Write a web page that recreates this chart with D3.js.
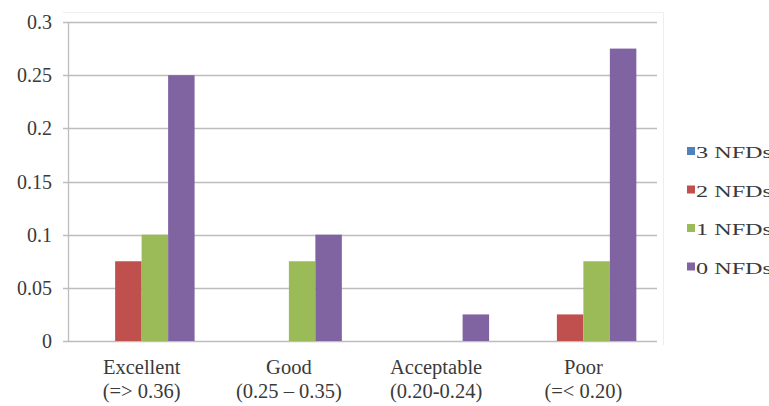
<!DOCTYPE html>
<html>
<head>
<meta charset="utf-8">
<script src="https://cdn.jsdelivr.net/npm/d3@7"></script>
<style>
  html, body { margin: 0; padding: 0; background: #fff; }
  svg { display: block; }
</style>
</head>
<body>
<svg id="nfd-plot" width="769" height="406"></svg>
<script>
// Rating categories, two-line labels
const categories = ["Excellent", "Good", "Acceptable", "Poor"];
const categoryRanges = ["(=> 0.36)", "(0.25 \u2013 0.35)", "(0.20-0.24)", "(=< 0.20)"];

// Series (number of NFDs) and their values per category
const seriesNames = ["3 NFDs", "2 NFDs", "1 NFDs", "0 NFDs"];
const nfd3 = [0, 0, 0, 0];
const nfd2 = [0.075, 0, 0, 0.025];
const nfd1 = [0.1, 0.075, 0, 0.075];
const nfd0 = [0.25, 0.1, 0.025, 0.275];
const seriesColors = ["#4F81BD", "#C0504D", "#9BBB59", "#8064A2"];

const yTicks = [0, 0.05, 0.1, 0.15, 0.2, 0.25, 0.3];

const seriesValues = [nfd3, nfd2, nfd1, nfd0];

const svg = d3.select("#nfd-plot");
const margin = { left: 68, top: 22, right: 657, bottom: 341 };
const textColor = "#3a3a3a";
const serif = '"Liberation Serif"';

const x0 = d3.scaleBand()
  .domain(categories)
  .range([margin.left, margin.right])
  .paddingInner(0)
  .paddingOuter(0);

const x1 = d3.scaleBand()
  .domain(seriesNames)
  .range([0, x0.bandwidth()])
  .paddingInner(0)
  .paddingOuter(0.78);

const y = d3.scaleLinear().domain([0, 0.3]).range([margin.bottom, margin.top]);

// faint outer frame of the plot area
svg.append("path")
  .attr("d", `M${margin.left - 5},12.5 H663.5 V345`)
  .attr("fill", "none")
  .attr("stroke", "#eeeeee")
  .attr("stroke-width", 1);

// horizontal gridlines
svg.append("g")
  .selectAll("line")
  .data(yTicks)
  .join("line")
  .attr("x1", margin.left - 5)
  .attr("x2", margin.right)
  .attr("y1", d => Math.round(y(d)) + 0.5)
  .attr("y2", d => Math.round(y(d)) + 0.5)
  .attr("stroke", "#bdbdbd")
  .attr("stroke-width", 1.3);

// vertical value axis line
svg.append("line")
  .attr("x1", margin.left + 0.5).attr("x2", margin.left + 0.5)
  .attr("y1", y(0.3)).attr("y2", y(0) + 1)
  .attr("stroke", "#bdbdbd")
  .attr("stroke-width", 1.3);

// y tick labels
svg.append("g")
  .selectAll("text")
  .data(yTicks)
  .join("text")
  .style("font-family", serif, "important")
  .style("font-size", "20px")
  .attr("x", 52)
  .attr("y", d => y(d))
  .attr("dy", "0.35em")
  .attr("text-anchor", "end")
  .attr("fill", textColor)
  .text(d => d3.format("~g")(d));

// bars
const groups = svg.append("g")
  .selectAll("g")
  .data(categories)
  .join("g")
  .attr("transform", d => `translate(${x0(d)},0)`);

groups.selectAll("rect")
  .data((c, i) => seriesNames.map((s, j) => ({ s, v: seriesValues[j][i], color: seriesColors[j] })))
  .join("rect")
  .attr("x", d => x1(d.s))
  .attr("width", x1.bandwidth())
  .attr("y", d => y(d.v))
  .attr("height", d => y(0) - y(d.v))
  .attr("fill", d => d.color);

// category labels, one text per line
const catG = svg.append("g");
catG.selectAll("text.cat")
  .data(categories)
  .join("text")
  .attr("class", "cat")
  .style("font-family", serif, "important")
  .style("font-size", "20.5px")
  .attr("text-anchor", "middle")
  .attr("fill", textColor)
  .attr("x", d => x0(d) + x0.bandwidth() / 2)
  .attr("y", 374)
  .text(d => d);
catG.selectAll("text.range")
  .data(categoryRanges)
  .join("text")
  .attr("class", "range")
  .style("font-family", serif, "important")
  .style("font-size", "20.5px")
  .attr("text-anchor", "middle")
  .attr("fill", textColor)
  .attr("x", (d, i) => x0(categories[i]) + x0.bandwidth() / 2)
  .attr("y", 398)
  .text(d => d);

// legend
const legend = svg.append("g")
  .selectAll("g")
  .data(seriesNames)
  .join("g")
  .attr("transform", (d, i) => `translate(687,${151 + i * 38.5})`);
legend.append("rect")
  .attr("x", 0).attr("y", -4)
  .attr("width", 8).attr("height", 8)
  .attr("fill", (d, i) => seriesColors[i]);
legend.append("text")
  .style("font-family", serif, "important")
  .style("font-size", "17px")
  .attr("x", 9)
  .attr("y", 7)
  .attr("fill", textColor)
  .attr("textLength", 76)
  .attr("lengthAdjust", "spacingAndGlyphs")
  .text(d => d);
</script>
</body>
</html>
